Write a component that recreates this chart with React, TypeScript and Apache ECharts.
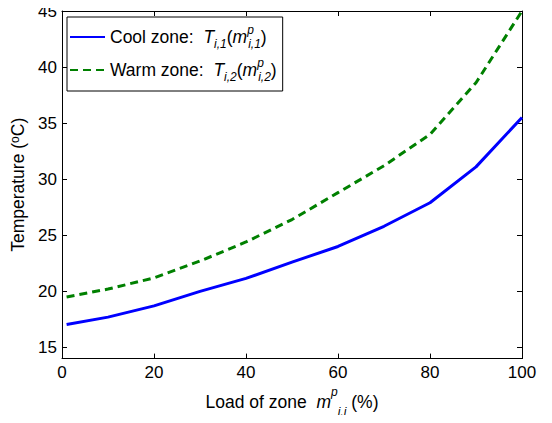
import React, { useEffect, useRef } from "react";
import * as echarts from "echarts";

const loadPct = [1, 10, 20, 30, 40, 50, 60, 70, 80, 90, 100];
const coolZone = [17.05, 17.7, 18.7, 20.0, 21.15, 22.6, 24.0, 25.8, 27.9, 31.1, 35.5];
const warmZone = [19.5, 20.2, 21.2, 22.7, 24.4, 26.4, 28.8, 31.2, 34.0, 38.6, 45.0];
const yTicks = [15, 20, 25, 30, 35, 40, 45];
const seriesNames = ["Cool zone", "Warm zone"];

const FONT = "Liberation Sans, Arial, sans-serif";

export default function App() {
  const ref = useRef<HTMLDivElement>(null);
  useEffect(() => {
    if (!ref.current) return;
    const chart = echarts.init(ref.current, null, { renderer: "svg" });
    const base = { fontFamily: FONT, fontSize: 17.5, color: "#000" };
    const makeRich = (lh: number, stack: boolean) => ({
      n: { ...base, lineHeight: lh },
      it: { ...base, fontStyle: "italic", lineHeight: lh },
      sub: { ...base, fontSize: 12, fontStyle: "italic", lineHeight: 12, verticalAlign: "bottom" },
      sup: stack
        ? { ...base, fontSize: 12, fontStyle: "italic", lineHeight: 12, verticalAlign: "top", width: 1 }
        : { ...base, fontSize: 12, fontStyle: "italic", lineHeight: 12, verticalAlign: "top" },
    });
    const axisCommon = {
      axisLine: { show: true, onZero: false, lineStyle: { color: "#000", width: 1 } },
      axisTick: { show: true, inside: true, length: 5, lineStyle: { color: "#000" } },
      splitLine: { show: false },
    };
    chart.setOption({
      animation: false,
      backgroundColor: "#fff",
      textStyle: { fontFamily: FONT },
      grid: { left: 62, right: 30, top: 11, bottom: 57, containLabel: false },
      legend: {
        orient: "vertical",
        left: 67,
        top: 17,
        padding: [7, 6, 8, 2],
        itemGap: 7,
        itemWidth: 35,
        itemHeight: 14,
        backgroundColor: "#fff",
        borderColor: "#000",
        borderWidth: 1,
        borderRadius: 0,
        itemStyle: { opacity: 0 },
        data: seriesNames,
        formatter: (name: string) => {
          const k = name === seriesNames[0] ? "1" : "2";
          return `{n|${name}:  }{it|T}{sub|i,${k}}{n|(}{it|m}{sup|p}{sub|i,${k}}{n|)}`;
        },
        textStyle: { ...base, rich: makeRich(26, true) },
      },
      xAxis: [
        {
          type: "value",
          min: 0,
          max: 100,
          interval: 20,
          position: "bottom",
          ...axisCommon,
          axisLabel: { ...base, fontSize: 17, margin: 5.5 },
          name: "Load of zone  {it|m}{sup|p}{sub|i,j}{n| (%)}",
          nameLocation: "middle",
          nameGap: 25,
          nameTextStyle: { ...base, rich: makeRich(32, false) },
        },
        {
          type: "value",
          min: 0,
          max: 100,
          interval: 20,
          position: "top",
          ...axisCommon,
          axisLabel: { show: false },
        },
      ],
      yAxis: [
        {
          type: "value",
          min: 14,
          max: 45,
          position: "left",
          ...axisCommon,
          axisTick: { ...axisCommon.axisTick, customValues: yTicks },
          axisLabel: { ...base, fontSize: 17, margin: 5, customValues: yTicks },
          name: "Temperature ({sup|o}C)",
          nameLocation: "middle",
          nameRotate: 90,
          nameGap: 30,
          nameTextStyle: {
            ...base,
            rich: {
              sup: { ...base, fontSize: 12, lineHeight: 12, verticalAlign: "top" },
            },
          },
        },
        {
          type: "value",
          min: 14,
          max: 45,
          position: "right",
          ...axisCommon,
          axisTick: { ...axisCommon.axisTick, customValues: yTicks },
          axisLabel: { show: false, customValues: yTicks },
        },
      ],
      series: [
        {
          name: seriesNames[0],
          type: "line",
          data: loadPct.map((x, i) => [x, coolZone[i]]),
          symbol: "none",
          lineStyle: { color: "#0000ff", width: 3 },
          itemStyle: { color: "#0000ff" },
        },
        {
          name: seriesNames[1],
          type: "line",
          data: loadPct.map((x, i) => [x, warmZone[i]]),
          symbol: "none",
          lineStyle: { color: "#008000", width: 3, type: [8, 5] },
          itemStyle: { color: "#008000" },
        },
      ],
    });
    return () => chart.dispose();
  }, []);
  return <div ref={ref} style={{ width: 552, height: 423, margin: -8 }} />;
}
